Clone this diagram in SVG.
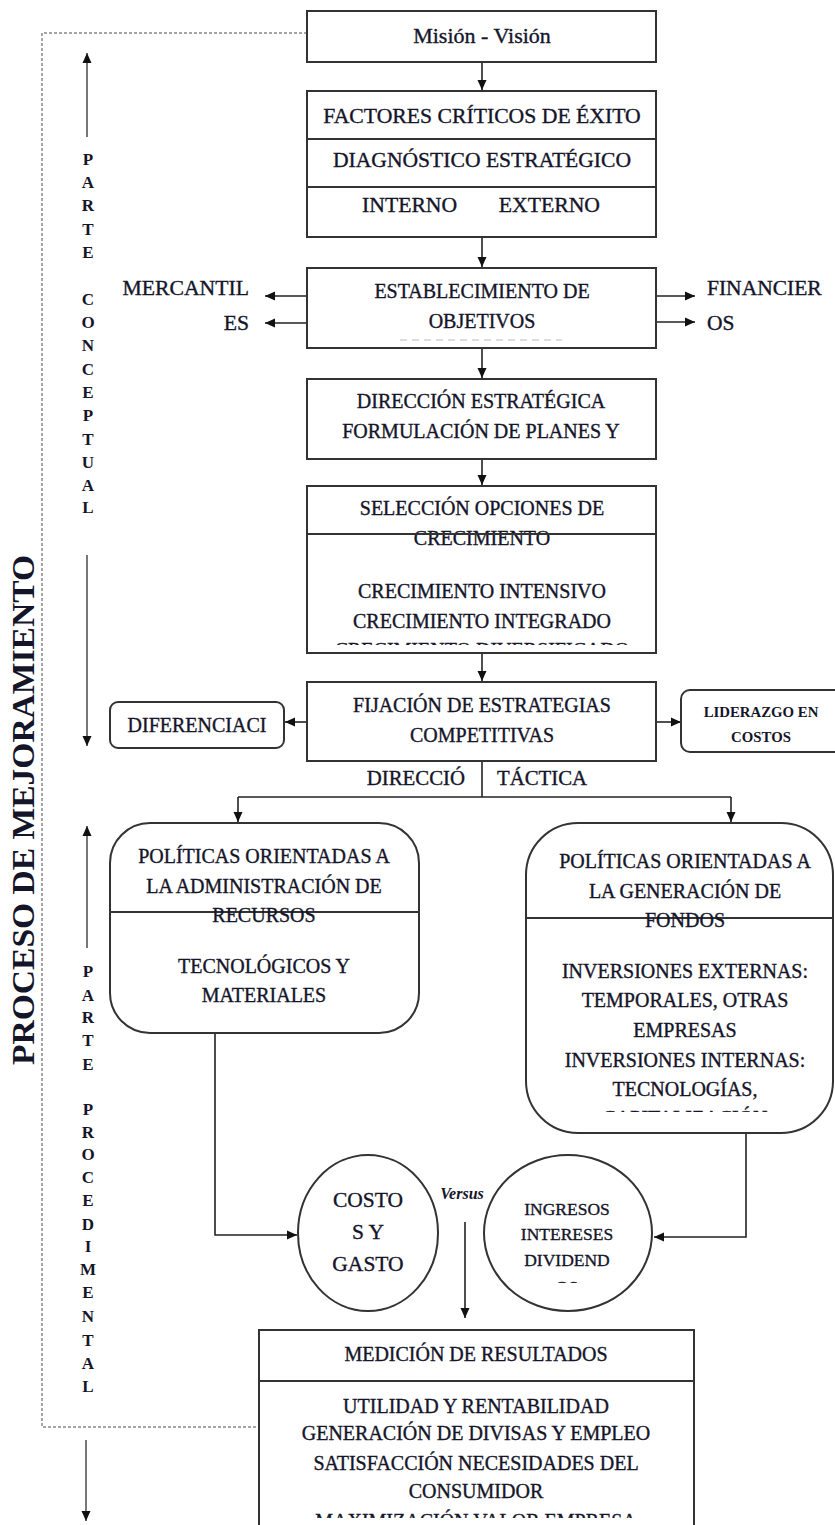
<svg xmlns="http://www.w3.org/2000/svg" width="835" height="1525" viewBox="0 0 835 1525">
<style>
.t{font-family:"Liberation Serif","Times New Roman",serif;fill:#15152a;stroke:#15152a;stroke-width:0.35;text-anchor:middle;font-size:20px}
.b{fill:#fff;stroke:#333;stroke-width:2}
.l{stroke:#333;stroke-width:2;fill:none}
.c{stroke:#222;stroke-width:1.6;fill:none}
.g{stroke:#555;stroke-width:1.6;fill:none}
.v{font-family:"Liberation Serif","Times New Roman",serif;fill:#15152a;font-weight:bold;font-size:17px;text-anchor:middle}
</style>
<defs>
<marker id="ah" viewBox="0 0 10 10" refX="10" refY="5" markerWidth="10" markerHeight="10" markerUnits="userSpaceOnUse" orient="auto"><path d="M0,0.5 L10,5 L0,9.5 z" fill="#111"/></marker>
<clipPath id="c1"><rect x="307" y="600" width="349" height="45"/></clipPath>
<clipPath id="c2"><rect x="525" y="1100" width="310" height="12"/></clipPath>
<clipPath id="c3"><rect x="484" y="1270" width="168" height="13"/></clipPath>
<clipPath id="c4"><rect x="259" y="1505" width="435" height="13"/></clipPath>
</defs>

<g id="frame">
<path d="M307,33 H42 V1427 H259" fill="none" stroke="#888" stroke-width="1.5" stroke-dasharray="3 2"/>
<text class="t" transform="translate(23,810) rotate(-90)" style="font-size:31px;font-weight:bold;stroke-width:0" y="11" textLength="510" lengthAdjust="spacingAndGlyphs">PROCESO DE MEJORAMIENTO</text>
</g>

<g id="side-arrows">
<line class="g" x1="87" y1="137" x2="87" y2="53" marker-end="url(#ah)"/>
<line class="g" x1="87" y1="555" x2="87" y2="746" marker-end="url(#ah)"/>
<line class="g" x1="87" y1="948" x2="87" y2="826" marker-end="url(#ah)"/>
<line class="g" x1="86" y1="1440" x2="86" y2="1521" marker-end="url(#ah)"/>
</g>

<g id="parte-conceptual" class="v">
<text x="88" y="165">P</text><text x="88" y="188">A</text><text x="88" y="211">R</text><text x="88" y="235">T</text><text x="88" y="258">E</text>
<text x="88" y="305">C</text><text x="88" y="328">O</text><text x="88" y="351">N</text><text x="88" y="375">C</text><text x="88" y="398">E</text><text x="88" y="421">P</text><text x="88" y="445">T</text><text x="88" y="468">U</text><text x="88" y="491">A</text><text x="88" y="513">L</text>
</g>
<g id="parte-procedimental" class="v">
<text x="88" y="977">P</text><text x="88" y="1001">A</text><text x="88" y="1023">R</text><text x="88" y="1046">T</text><text x="88" y="1070">E</text>
<text x="88" y="1115">P</text><text x="88" y="1138">R</text><text x="88" y="1160">O</text><text x="88" y="1183">C</text><text x="88" y="1206">E</text><text x="88" y="1230">D</text><text x="88" y="1252">I</text><text x="88" y="1275">M</text><text x="88" y="1298">E</text><text x="88" y="1322">N</text><text x="88" y="1346">T</text><text x="88" y="1369">A</text><text x="88" y="1392">L</text>
</g>

<g id="connectors">
<line class="c" x1="482" y1="62" x2="482" y2="90" marker-end="url(#ah)"/>
<line class="c" x1="482" y1="237" x2="482" y2="267" marker-end="url(#ah)"/>
<line class="c" x1="307" y1="296" x2="265" y2="296" marker-end="url(#ah)"/>
<line class="c" x1="307" y1="323" x2="265" y2="323" marker-end="url(#ah)"/>
<line class="c" x1="656" y1="296" x2="695" y2="296" marker-end="url(#ah)"/>
<line class="c" x1="656" y1="322" x2="695" y2="322" marker-end="url(#ah)"/>
<line class="c" x1="482" y1="348" x2="482" y2="378" marker-end="url(#ah)"/>
<line class="c" x1="482" y1="459" x2="482" y2="485" marker-end="url(#ah)"/>
<line class="c" x1="482" y1="653" x2="482" y2="681" marker-end="url(#ah)"/>
<line class="c" x1="307" y1="722" x2="285" y2="722" marker-end="url(#ah)"/>
<line class="c" x1="656" y1="722" x2="681" y2="722" marker-end="url(#ah)"/>
<line class="c" x1="482" y1="761" x2="482" y2="797"/>
<path class="c" d="M238,797 H731"/>
<line class="c" x1="238" y1="797" x2="238" y2="822" marker-end="url(#ah)"/>
<line class="c" x1="731" y1="797" x2="731" y2="822" marker-end="url(#ah)"/>
<path class="c" d="M215,1033 V1235 H297" marker-end="url(#ah)"/>
<path class="c" d="M746,1133 V1237 H654" marker-end="url(#ah)"/>
<line class="c" x1="465" y1="1222" x2="465" y2="1318" marker-end="url(#ah)"/>
</g>

<g id="mision">
<rect class="b" x="307" y="11" width="349" height="51"/>
<text class="t" x="482" y="43" style="font-size:22px">Misión - Visión</text>
</g>

<g id="factores">
<rect class="b" x="307" y="91" width="349" height="146"/>
<line class="l" x1="307" y1="139" x2="656" y2="139"/>
<line class="l" x1="307" y1="187" x2="656" y2="187"/>
<text class="t" x="482" y="123" style="font-size:21.7px">FACTORES CRÍTICOS DE ÉXITO</text>
<text class="t" x="482" y="167" style="font-size:21.6px">DIAGNÓSTICO ESTRATÉGICO</text>
<text class="t" x="362" y="212" style="font-size:21.7px;text-anchor:start">INTERNO</text>
<text class="t" x="600" y="212" style="font-size:21.7px;text-anchor:end">EXTERNO</text>
</g>

<g id="establecimiento">
<rect class="b" x="307" y="268" width="349" height="80"/>
<text class="t" x="482" y="298">ESTABLECIMIENTO DE</text>
<text class="t" x="482" y="328">OBJETIVOS</text>
<line x1="400" y1="340" x2="562" y2="340" stroke="#bbb" stroke-width="1.2" stroke-dasharray="7 5"/>
</g>

<g id="mercantiles">
<text class="t" x="249" y="295" style="text-anchor:end;font-size:21.7px">MERCANTIL</text>
<text class="t" x="249" y="330" style="text-anchor:end;font-size:21.7px">ES</text>
</g>
<g id="financieros">
<text class="t" x="707" y="295" style="text-anchor:start;font-size:21.5px">FINANCIER</text>
<text class="t" x="707" y="330" style="text-anchor:start;font-size:21.5px">OS</text>
</g>

<g id="direccion">
<rect class="b" x="307" y="379" width="349" height="80"/>
<text class="t" x="481" y="408">DIRECCIÓN ESTRATÉGICA</text>
<text class="t" x="481" y="438">FORMULACIÓN DE PLANES Y</text>
</g>

<g id="seleccion">
<rect class="b" x="307" y="486" width="349" height="167"/>
<text class="t" x="482" y="515">SELECCIÓN OPCIONES DE</text>
<text class="t" x="482" y="545">CRECIMIENTO</text>
<line class="l" x1="307" y1="534" x2="656" y2="534"/>
<text class="t" x="482" y="598">CRECIMIENTO INTENSIVO</text>
<text class="t" x="482" y="628">CRECIMIENTO INTEGRADO</text>
<text class="t" x="482" y="657" clip-path="url(#c1)">CRECIMIENTO DIVERSIFICADO</text>
</g>

<g id="fijacion">
<rect class="b" x="307" y="682" width="349" height="79"/>
<text class="t" x="482" y="712">FIJACIÓN DE ESTRATEGIAS</text>
<text class="t" x="482" y="742">COMPETITIVAS</text>
</g>

<g id="diferenciacion">
<rect class="b" x="110" y="702" width="174" height="46" rx="8"/>
<text class="t" x="197" y="732">DIFERENCIACI</text>
</g>

<g id="liderazgo">
<rect class="b" x="681" y="690" width="164" height="62" rx="9"/>
<text class="t" x="761" y="717" style="font-size:14.8px;font-weight:bold;stroke-width:0">LIDERAZGO EN</text>
<text class="t" x="761" y="742" style="font-size:14.8px;font-weight:bold;stroke-width:0">COSTOS</text>
</g>

<g id="direccion-tactica">
<text class="t" x="465" y="785" style="text-anchor:end;font-size:20.8px">DIRECCIÓ</text>
<text class="t" x="497" y="785" style="text-anchor:start;font-size:20.8px">TÁCTICA</text>
</g>

<g id="politicas-recursos">
<rect class="b" x="110" y="823" width="309" height="210" rx="40"/>
<line class="l" x1="110" y1="912" x2="419" y2="912" style="stroke-width:1.8"/>
<text class="t" x="264" y="863">POLÍTICAS ORIENTADAS A</text>
<text class="t" x="264" y="893">LA ADMINISTRACIÓN DE</text>
<text class="t" x="264" y="922">RECURSOS</text>
<text class="t" x="264" y="973">TECNOLÓGICOS Y</text>
<text class="t" x="264" y="1002">MATERIALES</text>
</g>

<g id="politicas-fondos">
<rect class="b" x="526" y="823" width="307" height="310" rx="52"/>
<line class="l" x1="526" y1="918" x2="833" y2="918" style="stroke-width:1.8"/>
<text class="t" x="685" y="868">POLÍTICAS ORIENTADAS A</text>
<text class="t" x="685" y="898">LA GENERACIÓN DE</text>
<text class="t" x="685" y="927">FONDOS</text>
<text class="t" x="685" y="978">INVERSIONES EXTERNAS:</text>
<text class="t" x="685" y="1007">TEMPORALES, OTRAS</text>
<text class="t" x="685" y="1037">EMPRESAS</text>
<text class="t" x="685" y="1067">INVERSIONES INTERNAS:</text>
<text class="t" x="685" y="1096">TECNOLOGÍAS,</text>
<text class="t" x="685" y="1125" clip-path="url(#c2)">CAPITALIZACIÓN</text>
</g>

<g id="costos">
<ellipse class="b" cx="368" cy="1233" rx="70" ry="78"/>
<text class="t" x="368" y="1207" style="font-size:21.5px">COSTO</text>
<text class="t" x="368" y="1239" style="font-size:21.5px">S Y</text>
<text class="t" x="368" y="1271" style="font-size:21.5px">GASTO</text>
</g>

<g id="versus">
<text class="t" x="462" y="1199" style="font-size:16px;font-weight:bold;font-style:italic;stroke-width:0">Versus</text>
</g>

<g id="ingresos">
<ellipse class="b" cx="568" cy="1233" rx="84" ry="78"/>
<text class="t" x="567" y="1215" style="font-size:17.5px">INGRESOS</text>
<text class="t" x="567" y="1240" style="font-size:17.5px">INTERESES</text>
<text class="t" x="567" y="1266" style="font-size:17.5px">DIVIDEND</text>
<text class="t" x="567" y="1293" style="font-size:17.5px" clip-path="url(#c3)">OS</text>
</g>

<g id="medicion">
<rect class="b" x="259" y="1330" width="435" height="210"/>
<line class="l" x1="259" y1="1381" x2="694" y2="1381"/>
<text class="t" x="476" y="1361">MEDICIÓN DE RESULTADOS</text>
<text class="t" x="476" y="1413">UTILIDAD Y RENTABILIDAD</text>
<text class="t" x="476" y="1440">GENERACIÓN DE DIVISAS Y EMPLEO</text>
<text class="t" x="476" y="1470">SATISFACCIÓN NECESIDADES DEL</text>
<text class="t" x="476" y="1498">CONSUMIDOR</text>
<text class="t" x="476" y="1528" clip-path="url(#c4)">MAXIMIZACIÓN VALOR EMPRESA</text>
</g>
</svg>
